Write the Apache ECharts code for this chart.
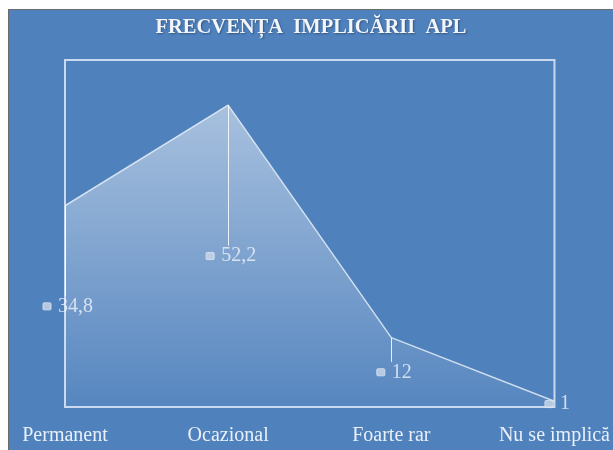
<!DOCTYPE html>
<html>
<head>
<meta charset="utf-8">
<script src="https://cdn.jsdelivr.net/npm/echarts@6/dist/echarts.min.js"></script>
<style>
  html, body { margin: 0; padding: 0; background: #ffffff; }
  #edge { position: absolute; left: 8px; top: 9px; width: 605px; height: 441px; background: #6b6b6b; }
  #c { position: absolute; left: 9px; top: 10px; width: 604px; height: 440px; }
</style>
</head>
<body>
<div id="edge"></div>
<div id="c"></div>
<script>
const titleText = 'FRECVENȚA  IMPLICĂRII  APL';
const categories = ['Permanent', 'Ocazional', 'Foarte rar', 'Nu se implică'];
const values = [34.8, 52.2, 12, 1];
const yMin = 0;
const yMax = 60;

const fmt = v => String(v).replace('.', ',');
const serif = "'Liberation Serif', 'DejaVu Serif', serif";

const leaderLines = [];
values.forEach((v, i) => {
  const end = v / 2 + 1.8;
  if (end < v) {
    leaderLines.push([{ coord: [categories[i], v] }, { coord: [categories[i], end] }]);
  }
});

const chart = echarts.init(document.getElementById('c'), null, { renderer: 'canvas' });
chart.setOption({
  animation: false,
  backgroundColor: '#4f81bd',
  title: {
    text: titleText,
    left: 'center',
    top: 2,
    textStyle: {
      fontFamily: serif,
      fontWeight: 'bold',
      fontSize: 20.5,
      color: '#f2f5fa',
      textShadowColor: 'rgba(0,0,0,0.35)',
      textShadowBlur: 2,
      textShadowOffsetX: 1,
      textShadowOffsetY: 1
    }
  },
  grid: {
    left: 56, top: 50, right: 55, bottom: 43,
    show: true,
    borderColor: '#c9d9ef',
    borderWidth: 2,
    backgroundColor: 'transparent'
  },
  xAxis: {
    type: 'category',
    data: categories,
    boundaryGap: false,
    axisLine: { show: false },
    axisTick: { show: false },
    splitLine: { show: false },
    axisLabel: {
      margin: 19,
      fontFamily: serif,
      fontSize: 20,
      color: '#eaf0f8',
      interval: 0,
      hideOverlap: false
    }
  },
  yAxis: {
    type: 'value',
    min: yMin,
    max: yMax,
    show: false,
    splitLine: { show: false }
  },
  series: [
    {
      type: 'line',
      data: values,
      symbol: 'none',
      lineStyle: { color: 'rgba(235,242,250,0.8)', width: 1.5 },
      areaStyle: {
        color: new echarts.graphic.LinearGradient(0, 0, 0, 1, [
          { offset: 0, color: 'rgba(255,255,255,0.72)' },
          { offset: 1, color: 'rgba(255,255,255,0.06)' }
        ])
      },
      markLine: {
        silent: true,
        symbol: 'none',
        label: { show: false },
        lineStyle: { color: 'rgba(255,255,255,0.85)', width: 1, type: 'solid' },
        data: leaderLines
      },
      z: 2
    },
    {
      type: 'scatter',
      data: values.map(v => v / 2),
      symbolSize: 0,
      silent: true,
      z: 5,
      label: {
        show: true,
        position: 'inside',
        offset: [3, 0],
        formatter: p => '{k|}{v|' + fmt(values[p.dataIndex]) + '}',
        rich: {
          k: {
            width: 8, height: 7,
            backgroundColor: '#cdd9ea',
            borderColor: '#eef3fa',
            borderWidth: 0.5,
            borderRadius: 1
          },
          v: {
            fontFamily: serif,
            fontSize: 20,
            color: '#eef3fa',
            padding: [0, 0, 0, 7]
          }
        }
      }
    }
  ]
});
</script>
</body>
</html>
